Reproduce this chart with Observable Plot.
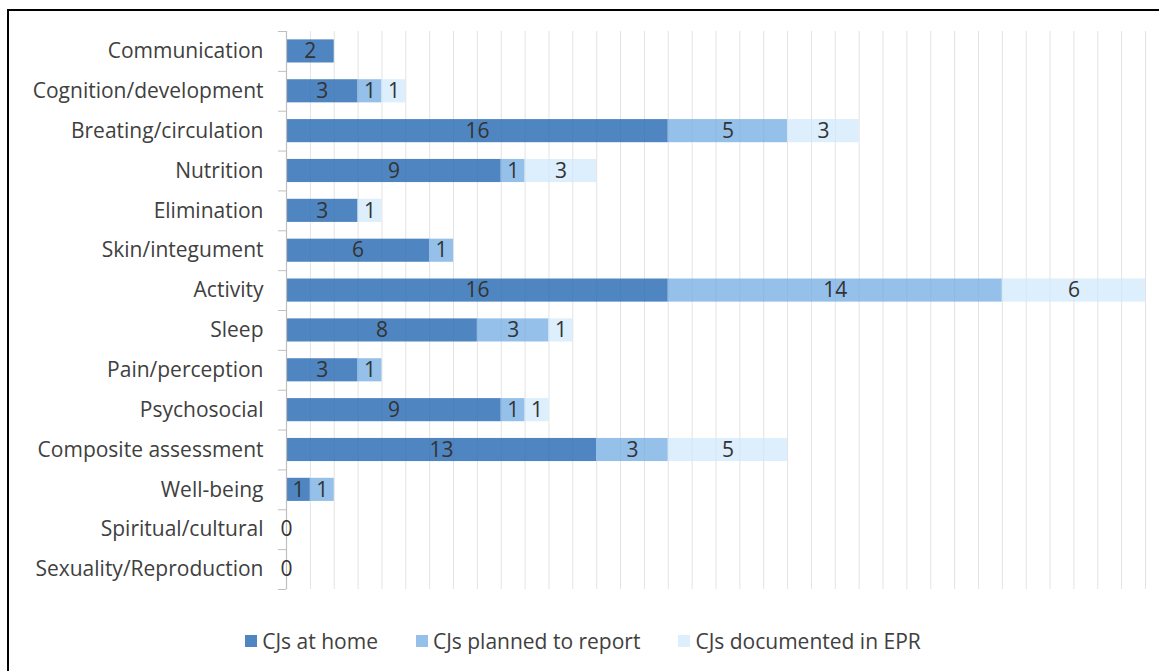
<!DOCTYPE html>
<html>
<head>
<meta charset="utf-8">
<script src="https://cdn.jsdelivr.net/npm/d3@7"></script>
<script src="https://cdn.jsdelivr.net/npm/@observablehq/plot@0.6"></script>
<style>
  html, body { margin: 0; padding: 0; background: #fff; overflow: hidden; }
  body { width: 1159px; height: 671px; position: relative; font-family: "Open Sans", sans-serif; }
  #frame { position: absolute; left: 7px; top: 9px; width: 1200px; height: 720px; border: 2px solid #000; box-sizing: border-box; }
  #chart { position: absolute; left: 0; top: 0; }
  #legend { position: absolute; left: 0; top: 627px; width: 1166px; height: 28px; display: flex; justify-content: center; align-items: center; font-size: 21px; color: #404040; }
  .item { display: flex; align-items: center; margin: 0 19px; }
  .sw { width: 12px; height: 12px; margin-right: 5px; }
</style>
</head>
<body>
<div id="frame"></div>
<div id="chart"></div>
<div id="legend"></div>
<script>
const categories = ["Communication", "Cognition/development", "Breating/circulation", "Nutrition", "Elimination", "Skin/integument", "Activity", "Sleep", "Pain/perception", "Psychosocial", "Composite assessment", "Well-being", "Spiritual/cultural", "Sexuality/Reproduction"];
const series = ["CJs at home", "CJs planned to report", "CJs documented in EPR"];
const atHome     = [2, 3, 16, 9, 3, 6, 16, 8, 3, 9, 13, 1, 0, 0];
const planned    = [0, 1, 5, 1, 0, 1, 14, 3, 1, 1, 3, 1, 0, 0];
const documented = [0, 1, 3, 3, 1, 0, 6, 1, 0, 1, 5, 0, 0, 0];
const colors = ["#4f86c1", "#94c0e9", "#ddeefc"];

const seriesValues = [atHome, planned, documented];
const data = [];
categories.forEach((c, i) => {
  series.forEach((s, j) => data.push({category: c, series: s, value: seriesValues[j][i]}));
});

const W = 1159, H = 610, mt = 31, mb = 21, ml = 286, mr = 14;
const step = (H - mt - mb) / categories.length;
const fs = 21;

const chart = Plot.plot({
  width: W, height: H,
  marginTop: mt, marginBottom: mb, marginLeft: ml, marginRight: mr,
  style: {fontFamily: "'Open Sans', sans-serif", background: "transparent"},
  x: {domain: [0, 36], axis: null},
  y: {domain: categories, paddingInner: 0.42, paddingOuter: 0.21, round: false, axis: null},
  color: {domain: series, range: colors},
  marks: [
    Plot.gridX({interval: 1, stroke: "#ebebeb", strokeOpacity: 1}),
    Plot.barX(data, {x: "value", y: "category", fill: "series"}),
    Plot.gridX({interval: 1, stroke: "#000", strokeOpacity: 0.035}),
    Plot.ruleX([0], {stroke: "#bfbfbf", strokeWidth: 1.2}),
    Plot.axisY({tickSize: 8, tickFormat: () => "", label: null, stroke: "#bfbfbf", dy: -step / 2}),
    Plot.axisY({ticks: [categories[categories.length - 1]], tickSize: 8, tickFormat: () => "", label: null, stroke: "#bfbfbf", dy: step / 2}),
    Plot.axisY({tickSize: 0, tickPadding: 23, label: null, fontSize: fs, fill: "#404040"}),
    Plot.text(data, Plot.stackX({
      x: "value", y: "category", z: "series",
      filter: d => d.value > 0 || d.series === series[0],
      text: d => String(d.value),
      fill: "#333", fontSize: fs
    }))
  ]
});
document.getElementById("chart").appendChild(chart);

const legend = document.getElementById("legend");
series.forEach((s, i) => {
  const it = document.createElement("div");
  it.className = "item";
  const sw = document.createElement("div");
  sw.className = "sw";
  sw.style.background = colors[i];
  const tx = document.createElement("span");
  tx.textContent = s;
  it.appendChild(sw); it.appendChild(tx);
  legend.appendChild(it);
});
</script>
</body>
</html>
